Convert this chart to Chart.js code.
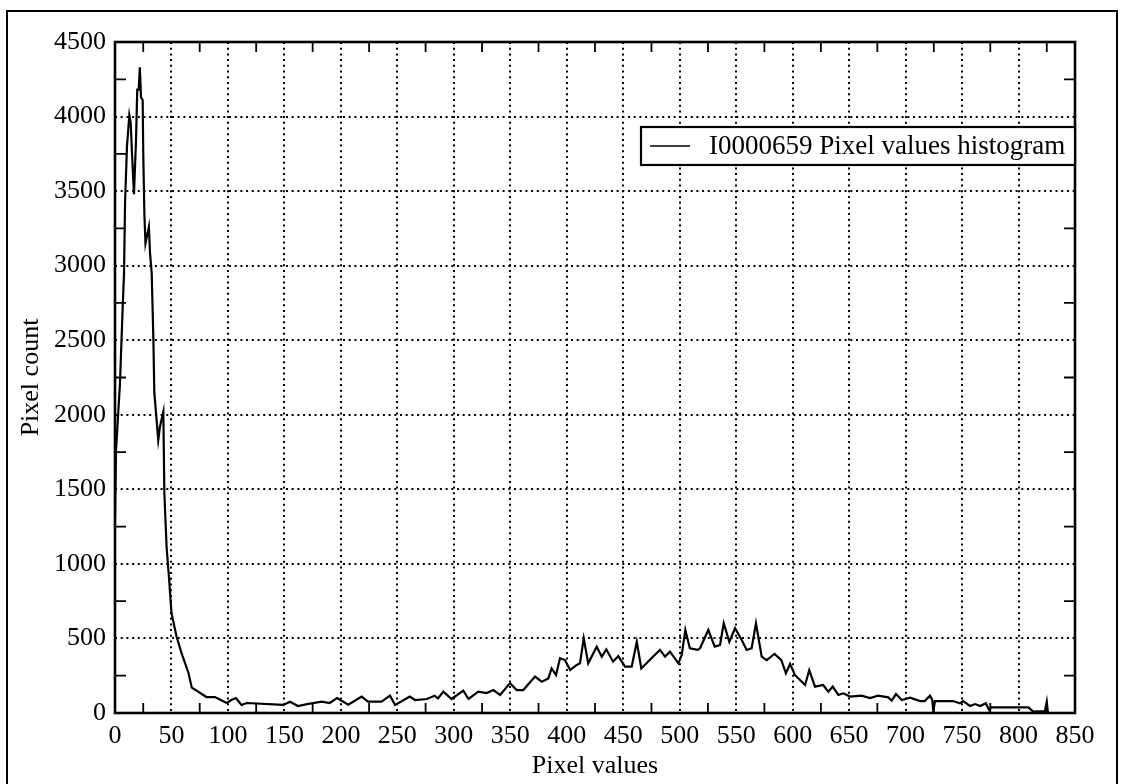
<!DOCTYPE html>
<html>
<head>
<meta charset="utf-8">
<title>Pixel values histogram</title>
<script src="https://cdn.jsdelivr.net/npm/chart.js@4/dist/chart.umd.min.js"></script>
<style>
  html, body { margin: 0; padding: 0; background: #fff; }
  #wrap { width: 1122px; height: 784px; position: relative; }
</style>
</head>
<body>
<div id="wrap"><canvas id="histChart" width="1122" height="784"></canvas></div>
<script>
// Histogram samples: pixel value (x) and how many pixels had it (y)
const pixelValues = [
  0, 0.9, 3, 4.4, 6.8, 8, 8.9, 10.6, 12.7, 13.9, 15, 16.8, 18.6, 19.7, 21, 22,
  23, 24.5, 25, 26, 27, 28.9, 30, 31, 32.5, 34, 34.8, 38.3, 39.8, 42.8, 43.7,
  45.7, 48, 50, 54.6, 59, 65, 68, 81, 88.5, 98.9, 103, 107, 112, 116.6, 149,
  155, 162, 170, 183, 190, 196.6, 206.6, 218.4, 224, 236, 243.5, 248, 261,
  265.6, 276, 283, 286, 290.7, 298, 308.4, 313, 321.7, 329, 335, 341, 349.7,
  355.7, 361.5, 371.9, 377.8, 383.7, 386.6, 390.5, 394, 398.4, 403, 408.8,
  411.7, 415, 419, 426.5, 431, 435, 441, 445.6, 451.6, 457.5, 462, 466, 475,
  482.5, 487, 491.4, 498.8, 501.8, 505, 509, 516, 518, 525.3, 531, 535.7, 539,
  543.9, 549, 554.9, 559.3, 563.7, 567.5, 572.6, 577, 584, 590, 594, 597.7,
  602, 611, 614.7, 619.8, 627, 631.6, 635.5, 640.5, 644.9, 650.8, 661, 668.5,
  675.8, 684.7, 687.7, 691.5, 696.6, 704, 712.8, 717, 721.6, 723.7, 724.5, 726,
  742, 748, 751, 757, 761.5, 766, 771, 774, 776, 808.7, 813, 823.4, 825, 826
];
const pixelCounts = [
  1300, 1760, 2030, 2210, 2720, 2950, 3420, 3800, 4010, 3960, 3760, 3480, 3840,
  4180, 4180, 4330, 4130, 4110, 3760, 3350, 3150, 3220, 3260, 3085, 2950, 2500,
  2150, 1830, 1920, 2020, 1475, 1110, 890, 670, 510, 400, 270, 170, 107, 107,
  67, 87, 100, 54, 67, 54, 76, 47, 60, 76, 67, 100, 55, 110, 76, 76, 116, 54,
  110, 87, 94, 116, 98, 143, 94, 150, 94, 143, 134, 154, 121, 201, 154, 154,
  244, 210, 232, 299, 255, 367, 355, 288, 322, 333, 501, 333, 445, 378, 427,
  344, 382, 311, 311, 478, 299, 367, 423, 378, 411, 333, 389, 557, 434, 423,
  434, 557, 445, 456, 602, 478, 568, 490, 423, 434, 602, 378, 355, 396, 355,
  266, 329, 255, 188, 288, 177, 188, 143, 177, 121, 132, 110, 116, 100, 116,
  105, 83, 127, 87, 103, 80, 80, 116, 87, 9, 80, 80, 65, 80, 47, 60, 47, 65,
  20, 38, 38, 9, 13, 76, 5
];
const seriesLabel = "I0000659 Pixel values histogram";

// Axis ranges and tick steps
const xRange = [0, 850];
const yRange = [0, 4500];
const xMajorStep = 50;
const yMajorStep = 500;

const serif = "'Liberation Serif', 'DejaVu Serif', serif";
const fontSize = 26;
const points = pixelValues.map((v, i) => ({ x: v, y: pixelCounts[i] }));

// Outer frame of the figure
const figureFrame = {
  id: "figureFrame",
  beforeDraw(chart) {
    const ctx = chart.ctx;
    ctx.save();
    ctx.strokeStyle = "#000";
    ctx.lineWidth = 2;
    ctx.beginPath();
    ctx.moveTo(7, 784);
    ctx.lineTo(7, 11);
    ctx.lineTo(1117, 11);
    ctx.lineTo(1117, 784);
    ctx.stroke();
    ctx.restore();
  },
};

// Solid box round the plot, plus small inward ticks halfway between grid lines
const plotBox = {
  id: "plotBox",
  afterDatasetsDraw(chart) {
    const { ctx, chartArea: a, scales } = chart;
    ctx.save();
    ctx.strokeStyle = "#000";
    ctx.lineWidth = 1.8;
    ctx.beginPath();
    for (let v = xMajorStep / 2; v < xRange[1]; v += xMajorStep) {
      const px = scales.x.getPixelForValue(v);
      ctx.moveTo(px, a.bottom);
      ctx.lineTo(px, a.bottom - 10);
      ctx.moveTo(px, a.top);
      ctx.lineTo(px, a.top + 10);
    }
    for (let v = yMajorStep / 2; v < yRange[1]; v += yMajorStep) {
      const py = scales.y.getPixelForValue(v);
      ctx.moveTo(a.left, py);
      ctx.lineTo(a.left + 11, py);
      ctx.moveTo(a.right, py);
      ctx.lineTo(a.right - 11, py);
    }
    ctx.stroke();
    ctx.lineWidth = 2.6;
    ctx.strokeRect(a.left, a.top, a.right - a.left, a.bottom - a.top);
    ctx.restore();
  },
};

// Boxed legend in the upper right of the plot
const boxedLegend = {
  id: "boxedLegend",
  afterDraw(chart) {
    const { ctx, chartArea: a } = chart;
    const w = 434, h = 38;
    const left = a.right - w, top = a.top + 85;
    const mid = top + h / 2;
    ctx.save();
    ctx.fillStyle = "#fff";
    ctx.fillRect(left, top, w, h);
    ctx.strokeStyle = "#000";
    ctx.lineWidth = 2.2;
    ctx.strokeRect(left, top, w, h);
    ctx.lineWidth = 1.6;
    ctx.beginPath();
    ctx.moveTo(left + 9, mid);
    ctx.lineTo(left + 49, mid);
    ctx.stroke();
    ctx.fillStyle = "#000";
    ctx.font = "27px " + serif;
    ctx.textBaseline = "middle";
    ctx.fillText(chart.data.datasets[0].label, left + 68, mid + 1);
    ctx.restore();
  },
};

new Chart(document.getElementById("histChart"), {
  type: "line",
  data: {
    datasets: [
      {
        label: seriesLabel,
        data: points,
        borderColor: "#000",
        borderWidth: 2.2,
        pointRadius: 0,
        tension: 0,
        fill: false,
      },
    ],
  },
  options: {
    responsive: false,
    animation: false,
    layout: { padding: { top: 42, right: 47, left: 0, bottom: 0 } },
    plugins: {
      legend: { display: false },
      tooltip: { enabled: false },
    },
    scales: {
      x: {
        type: "linear",
        min: xRange[0],
        max: xRange[1],
        afterFit(scale) { scale.height = 71; },
        ticks: {
          stepSize: xMajorStep,
          color: "#000",
          padding: 8,
          maxRotation: 0,
          font: { family: serif, size: fontSize },
          callback: (value) => String(value),
        },
        grid: { color: "#000", lineWidth: 2, drawTicks: false },
        border: { display: false, dash: [2, 3.7] },
        title: {
          display: true,
          text: "Pixel values",
          color: "#000",
          padding: { top: 0, bottom: 2 },
          font: { family: serif, size: fontSize },
        },
      },
      y: {
        type: "linear",
        min: yRange[0],
        max: yRange[1],
        afterFit(scale) { scale.width = 115; },
        ticks: {
          stepSize: yMajorStep,
          color: "#000",
          padding: 9,
          font: { family: serif, size: fontSize },
          callback: (value) => String(value),
        },
        grid: { color: "#000", lineWidth: 2, drawTicks: false },
        border: { display: false, dash: [2, 3.7] },
        title: {
          display: true,
          text: "Pixel count",
          color: "#000",
          padding: { top: 16, bottom: 0 },
          font: { family: serif, size: fontSize },
        },
      },
    },
  },
  plugins: [figureFrame, plotBox, boxedLegend],
});
</script>
</body>
</html>
